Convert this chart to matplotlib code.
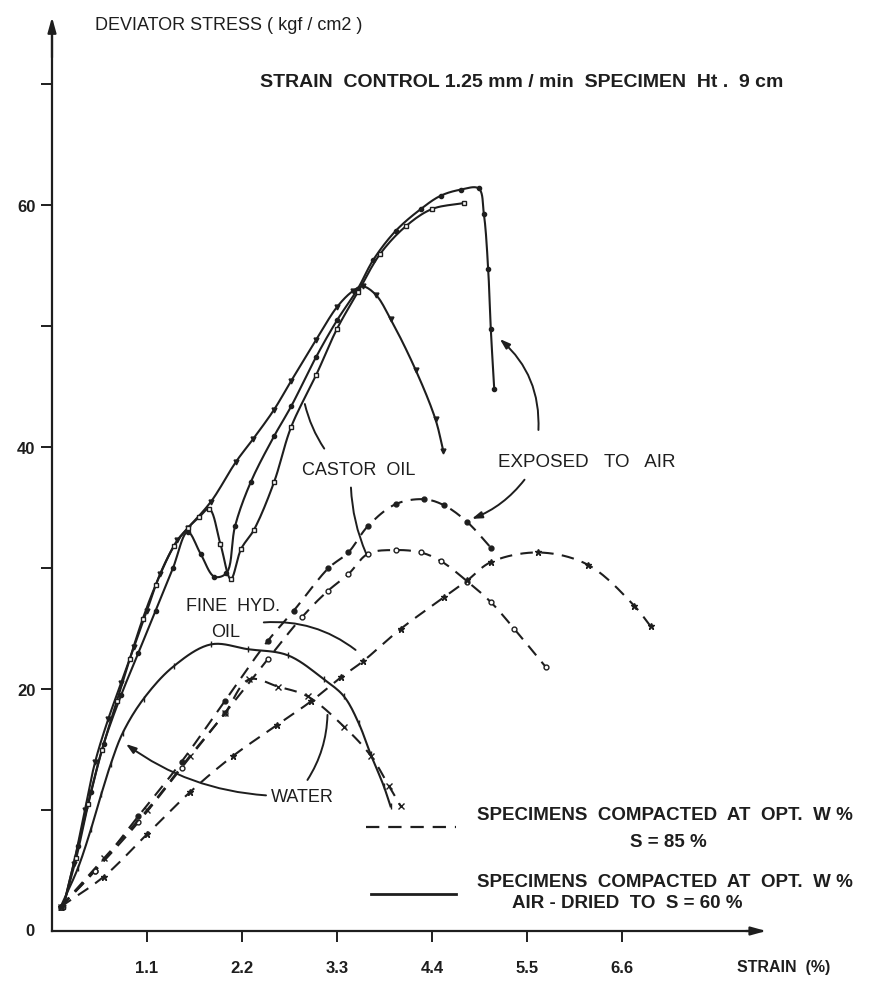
import matplotlib
matplotlib.use("Agg")
import matplotlib.pyplot as plt
import numpy as np

plt.rcParams['font.family'] = ['Liberation Sans', 'DejaVu Sans']

INK = "#1e1e1e"

# ---- strain (%) vs deviator stress (kgf/cm2) ----
# specimens compacted at opt. W %, air-dried to S = 60 %  (solid lines)
castor_solid_strain = [0.13, 0.25, 0.38, 0.5, 0.65, 0.8, 0.95, 1.1, 1.25, 1.45, 1.57, 1.84, 2.13, 2.33,
                       2.57, 2.77, 3.06, 3.3, 3.48, 3.6, 3.75, 3.92, 4.21, 4.44, 4.53]
castor_solid_stress = [2.0, 5.5, 10.0, 14.0, 17.5, 20.5, 23.5, 26.5, 29.5, 32.3, 33.3, 35.5, 38.8, 40.7,
                       43.1, 45.5, 48.9, 51.6, 52.9, 53.3, 52.6, 50.6, 46.4, 42.3, 39.7]

air_solid_strain = [0.13, 0.3, 0.45, 0.6, 0.8, 1.0, 1.2, 1.4, 1.57, 1.72, 1.88, 2.02, 2.12, 2.3, 2.57,
                    2.77, 3.06, 3.3, 3.54, 3.72, 3.98, 4.27, 4.5, 4.73, 4.94, 5.0, 5.05, 5.08, 5.12]
air_solid_stress = [2.0, 7.0, 11.5, 15.5, 19.5, 23.0, 26.5, 30.0, 33.0, 31.2, 29.3, 29.6, 33.5, 37.1, 40.9,
                    43.4, 47.5, 50.5, 53.1, 55.5, 57.9, 59.7, 60.8, 61.3, 61.4, 59.3, 54.7, 49.8, 44.8]

finehyd_solid_strain = [0.13, 0.28, 0.42, 0.58, 0.75, 0.9, 1.05, 1.2, 1.41, 1.57, 1.7, 1.82, 1.95, 2.07,
                        2.19, 2.34, 2.57, 2.77, 3.06, 3.3, 3.54, 3.8, 4.1, 4.4, 4.77]
finehyd_solid_stress = [2.0, 6.0, 10.5, 15.0, 19.0, 22.5, 25.8, 28.6, 31.8, 33.3, 34.2, 34.9, 32.0, 29.1,
                        31.6, 33.2, 37.1, 41.7, 46.0, 49.8, 52.8, 56.0, 58.3, 59.7, 60.2]

water_solid_strain = [0.1, 0.3, 0.45, 0.57, 0.68, 0.82, 1.06, 1.41, 1.84, 2.27, 2.73, 3.15, 3.38,
                      3.55, 3.69, 3.84, 3.92]
water_solid_stress = [2.0, 5.2, 8.4, 11.3, 13.8, 16.4, 19.2, 21.9, 23.7, 23.3, 22.8, 20.8, 19.4,
                      17.2, 14.6, 12.0, 10.3]

# specimens compacted at opt. W %, S = 85 %  (dashed lines)
air_dash_strain = [0.1, 0.5, 1.0, 1.5, 2.0, 2.5, 2.8, 3.2, 3.43, 3.66, 3.98, 4.31, 4.54, 4.81, 5.08]
air_dash_stress = [2.0, 5.0, 9.5, 14.0, 19.0, 24.0, 26.5, 30.0, 31.3, 33.5, 35.3, 35.7, 35.2, 33.8, 31.7]

castor_dash_strain = [0.1, 0.5, 1.0, 1.5, 2.0, 2.5, 2.9, 3.19, 3.43, 3.66, 3.98, 4.27, 4.5, 4.81, 5.08,
                      5.35, 5.72]
castor_dash_stress = [2.0, 5.0, 9.0, 13.5, 18.0, 22.5, 26.0, 28.1, 29.5, 31.2, 31.5, 31.3, 30.6, 28.9,
                      27.2, 25.0, 21.8]

finehyd_dash_strain = [0.1, 0.6, 1.1, 1.6, 2.1, 2.6, 3.0, 3.35, 3.6, 4.04, 4.54, 4.81, 5.08, 5.63, 6.2,
                       6.74, 6.93]
finehyd_dash_stress = [2.0, 4.5, 8.0, 11.5, 14.5, 17.0, 19.0, 21.0, 22.3, 25.0, 27.6, 29.0, 30.5, 31.3,
                       30.3, 26.9, 25.2]

water_dash_strain = [0.1, 0.6, 1.1, 1.6, 2.0, 2.28, 2.62, 2.96, 3.38, 3.69, 3.9, 4.04]
water_dash_stress = [2.0, 6.0, 10.0, 14.5, 18.0, 20.8, 20.2, 19.4, 16.9, 14.5, 12.0, 10.3]

x_ticks = [1.1, 2.2, 3.3, 4.4, 5.5, 6.6]
y_ticks = [10, 20, 30, 40, 50, 60, 70]
y_tick_labels = ["", "20", "", "40", "", "60", ""]

X_SCALE, Y_SCALE = 86.4, 12.1   # screen pixels per data unit, keeps the smoothing isotropic


def smooth(xs, ys, n=10):
    """Centripetal Catmull-Rom path through the read points (drawing only)."""
    p = np.column_stack([np.asarray(xs) * X_SCALE, np.asarray(ys) * Y_SCALE])
    p = np.vstack([2 * p[0] - p[1], p, 2 * p[-1] - p[-2]])
    out = [p[1]]
    for i in range(1, len(p) - 2):
        p0, p1, p2, p3 = p[i - 1], p[i], p[i + 1], p[i + 2]
        t0 = 0.0
        t1 = t0 + max(np.linalg.norm(p1 - p0), 1e-6) ** 0.5
        t2 = t1 + max(np.linalg.norm(p2 - p1), 1e-6) ** 0.5
        t3 = t2 + max(np.linalg.norm(p3 - p2), 1e-6) ** 0.5
        for t in np.linspace(t1, t2, n + 1)[1:]:
            a1 = (t1 - t) / (t1 - t0) * p0 + (t - t0) / (t1 - t0) * p1
            a2 = (t2 - t) / (t2 - t1) * p1 + (t - t1) / (t2 - t1) * p2
            a3 = (t3 - t) / (t3 - t2) * p2 + (t - t2) / (t3 - t2) * p3
            b1 = (t2 - t) / (t2 - t0) * a1 + (t - t0) / (t2 - t0) * a2
            b2 = (t3 - t) / (t3 - t1) * a2 + (t - t1) / (t3 - t1) * a3
            out.append((t2 - t) / (t2 - t1) * b1 + (t - t1) / (t2 - t1) * b2)
    out = np.array(out)
    return out[:, 0] / X_SCALE, out[:, 1] / Y_SCALE


fig = plt.figure(figsize=(8.73, 9.87), dpi=100)
ax = fig.add_axes([52 / 873, 1 - 932 / 987, 710 / 873, 907 / 987])
ax.set_xlim(0, 8.22)
ax.set_ylim(0, 75)


def curve(xs, ys, marker, dashed=False, mfc=INK, ms=3.5):
    sx, sy = smooth(xs, ys)
    style = dict(color=INK, lw=1.5, clip_on=False)
    if dashed:
        ax.plot(sx, sy, dashes=(6, 4), **style)
    else:
        ax.plot(sx, sy, **style)
    ax.plot(xs, ys, ls='none', marker=marker, ms=ms, mfc=mfc, mec=INK, mew=1.0, clip_on=False)


curve(castor_solid_strain, castor_solid_stress, 'v')
curve(air_solid_strain, air_solid_stress, 'o', ms=3)
curve(finehyd_solid_strain, finehyd_solid_stress, 's', mfc='white', ms=3.5)
curve(water_solid_strain, water_solid_stress, '|', ms=5)

curve(air_dash_strain, air_dash_stress, 'o', dashed=True, ms=3.5)
curve(castor_dash_strain, castor_dash_stress, 'o', dashed=True, mfc='white', ms=3.5)
curve(finehyd_dash_strain, finehyd_dash_stress, '*', dashed=True, ms=5)
curve(water_dash_strain, water_dash_stress, 'x', dashed=True, ms=4)

# axes with arrow heads
for side in ("top", "right"):
    ax.spines[side].set_visible(False)
for side in ("left", "bottom"):
    ax.spines[side].set_linewidth(1.6)
    ax.spines[side].set_color(INK)
ax.annotate("", xy=(0, 75.8), xytext=(0, 72), xycoords='data',
            arrowprops=dict(arrowstyle='-|>,head_length=0.9,head_width=0.25', color=INK, lw=1.6),
            annotation_clip=False)
ax.annotate("", xy=(8.3, 0), xytext=(8.0, 0), xycoords='data',
            arrowprops=dict(arrowstyle='-|>,head_length=0.9,head_width=0.25', color=INK, lw=1.6),
            annotation_clip=False)

ax.set_xticks(x_ticks)
ax.set_xticklabels([f"{v:.1f}" for v in x_ticks], fontsize=12, fontweight='bold', color=INK)
ax.set_yticks(y_ticks)
ax.set_yticklabels(y_tick_labels, fontsize=12, fontweight='bold', color=INK)
ax.tick_params(axis='x', direction='out', length=8, width=1.4, pad=13, colors=INK)
ax.tick_params(axis='y', direction='out', length=8, width=1.4, pad=4, colors=INK)
ax.text(-0.2, 0, "0", fontsize=12, fontweight='bold', color=INK, ha='right', va='center')

# titles
fig.text(95 / 873, 1 - 25 / 987, "DEVIATOR STRESS ( kgf / cm2 )", fontsize=13, color=INK,
         ha='left', va='center')
fig.text(260 / 873, 1 - 83 / 987, "STRAIN  CONTROL 1.25 mm / min  SPECIMEN  Ht .  9 cm", fontsize=14,
         fontweight='bold', color=INK, ha='left', va='center')
fig.text(737 / 873, 1 - 968 / 987, "STRAIN  (%)", fontsize=11.5, fontweight='bold', color=INK,
         ha='left', va='center')

# curve labels
lab_kw = dict(fontsize=13, color=INK, ha='center', va='center')
ax.text(3.55, 38.2, "CASTOR  OIL", **lab_kw)
ax.text(6.19, 38.8, "EXPOSED   TO   AIR", fontsize=13.5, color=INK, ha='center', va='center')
ax.text(2.09, 26.9, "FINE  HYD.", **lab_kw)
ax.text(2.01, 24.8, "OIL", **lab_kw)
ax.text(2.9, 11.1, "WATER", **lab_kw)

lead = dict(arrowstyle='-', color=INK, lw=1.4)
lead_arrow = dict(arrowstyle='-|>,head_length=0.6,head_width=0.2', color=INK, lw=1.4)
ax.annotate("", xy=(2.92, 43.8), xytext=(3.17, 39.7),
            arrowprops=dict(connectionstyle="arc3,rad=-0.1", **lead))
ax.annotate("", xy=(3.65, 31.0), xytext=(3.46, 36.9),
            arrowprops=dict(connectionstyle="arc3,rad=0.1", **lead))
ax.annotate("", xy=(5.16, 49.1), xytext=(5.63, 41.2),
            arrowprops=dict(connectionstyle="arc3,rad=0.25", **lead_arrow))
ax.annotate("", xy=(4.83, 34.0), xytext=(5.49, 37.5),
            arrowprops=dict(connectionstyle="arc3,rad=-0.15", **lead_arrow))
ax.annotate("", xy=(3.54, 23.1), xytext=(2.42, 25.5),
            arrowprops=dict(connectionstyle="arc3,rad=-0.2", **lead))
ax.annotate("", xy=(0.83, 15.6), xytext=(2.51, 11.2),
            arrowprops=dict(connectionstyle="arc3,rad=-0.15", **lead_arrow))
ax.annotate("", xy=(3.19, 18.1), xytext=(2.94, 12.3),
            arrowprops=dict(connectionstyle="arc3,rad=0.15", **lead))

# key
ax.plot([3.63, 4.68], [8.6, 8.6], color=INK, lw=1.6, dashes=(6, 4), clip_on=False)
ax.plot([3.69, 4.68], [3.06, 3.06], color=INK, lw=2.0, clip_on=False)
key_kw = dict(fontsize=13.5, fontweight='bold', color=INK, va='center')
ax.text(4.92, 9.6, "SPECIMENS  COMPACTED  AT  OPT.  W %", ha='left', **key_kw)
ax.text(7.14, 7.36, "S = 85 %", ha='center', **key_kw)
ax.text(4.92, 4.1, "SPECIMENS  COMPACTED  AT  OPT.  W %", ha='left', **key_kw)
ax.text(5.33, 2.35, "AIR - DRIED  TO  S = 60 %", ha='left', **key_kw)

fig.savefig("out.png", dpi=100, facecolor='white')
